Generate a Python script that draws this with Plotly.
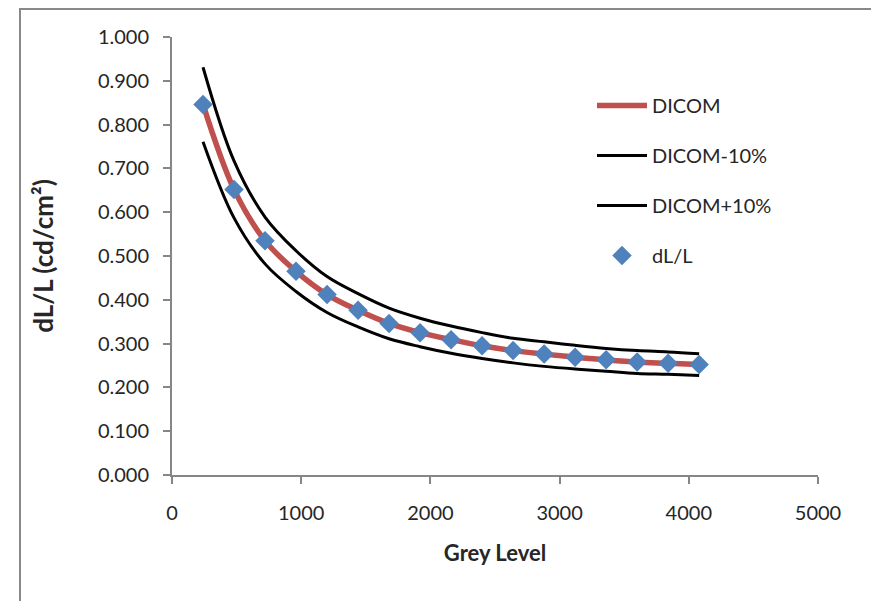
import plotly.graph_objects as go

grey_level = [240, 480, 720, 960, 1200, 1440, 1680, 1920, 2160, 2400, 2640, 2880, 3120, 3360, 3600, 3840, 4080]
dicom = [0.846, 0.652, 0.535, 0.465, 0.412, 0.376, 0.346, 0.325, 0.309, 0.295, 0.284, 0.276, 0.269, 0.263, 0.258, 0.255, 0.252]
dicom_minus10 = [0.761, 0.587, 0.482, 0.419, 0.371, 0.338, 0.311, 0.293, 0.278, 0.266, 0.256, 0.248, 0.242, 0.237, 0.232, 0.230, 0.227]
dicom_plus10 = [0.931, 0.717, 0.589, 0.512, 0.453, 0.414, 0.381, 0.358, 0.340, 0.325, 0.312, 0.304, 0.296, 0.289, 0.284, 0.281, 0.277]
measured = [0.846, 0.652, 0.535, 0.465, 0.412, 0.376, 0.346, 0.325, 0.309, 0.295, 0.284, 0.276, 0.269, 0.263, 0.258, 0.255, 0.252]

FONT = "Lato"
AX = "#868686"
TXT = "#262626"

fig = go.Figure()
fig.add_trace(go.Scatter(x=grey_level, y=dicom, name="DICOM", mode="lines",
                         line=dict(color="#C0504D", width=5.5, shape="spline"), legendgroup="a"))
fig.add_trace(go.Scatter(x=grey_level, y=dicom_minus10, name="DICOM-10%", mode="lines",
                         line=dict(color="black", width=3, shape="spline"), legendgroup="b"))
fig.add_trace(go.Scatter(x=grey_level, y=dicom_plus10, name="DICOM+10%", mode="lines",
                         line=dict(color="black", width=3, shape="spline"), legendgroup="c"))
fig.add_trace(go.Scatter(x=grey_level, y=measured, name="dL/L", mode="markers",
                         marker=dict(symbol="diamond", color="#4F81BD", size=15), legendgroup="d"))

# page body has an 8px margin, so the figure is 8px smaller and shifted
L, T, PW, PH = 164, 29, 646, 438
W, H = 871, 593

fig.update_layout(
    width=W, height=H,
    margin=dict(l=L, r=W - L - PW, t=T, b=H - T - PH),
    paper_bgcolor="white", plot_bgcolor="white",
    font=dict(family=FONT, size=20, color=TXT),
    showlegend=True,
    legend=dict(x=(584 - L) / PW, y=(T + PH - 78) / PH, xanchor="left", yanchor="top",
                font=dict(size=20, family=FONT, color=TXT),
                tracegroupgap=21, itemwidth=50, bgcolor="rgba(0,0,0,0)"),
    xaxis=dict(range=[0, 5000], tickvals=[0, 1000, 2000, 3000, 4000, 5000],
               showline=True, linecolor=AX, linewidth=2, ticks="outside", tickcolor=AX,
               tickwidth=2, ticklen=7, showgrid=False, zeroline=False,
               tickfont=dict(size=20), ticklabelstandoff=12,
               title=dict(text="<b>Grey Level</b>", font=dict(size=22, family=FONT, color=TXT), standoff=23)),
    yaxis=dict(range=[0, 1], tickvals=[i / 10 for i in range(11)], tickformat=".3f",
               showline=True, linecolor=AX, linewidth=2, ticks="outside", tickcolor=AX,
               tickwidth=2, ticklen=7, showgrid=False, zeroline=False,
               tickfont=dict(size=20), ticklabelstandoff=10,
               title=dict(text="<b>dL/L (cd/cm²)</b>", font=dict(size=26, family=FONT, color=TXT), standoff=37)),
)

fig.add_shape(type="rect", xref="paper", yref="paper",
              x0=(12 - L) / PW, x1=(864 - L) / PW,
              y0=(T + PH - 640) / PH, y1=(T + PH - 1) / PH,
              line=dict(color="#898989", width=2), layer="below")

fig.write_html("out.html")
